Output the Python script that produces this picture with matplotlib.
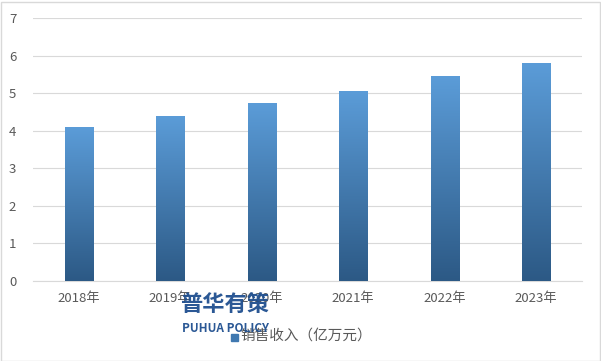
import matplotlib.pyplot as plt
import numpy as np
from matplotlib.colors import LinearSegmentedColormap

plt.rcParams['font.family'] = ['Noto Sans CJK SC', 'DejaVu Sans']

years = ['2018年', '2019年', '2020年', '2021年', '2022年', '2023年']
sales = [4.08, 4.37, 4.72, 5.04, 5.44, 5.78]
yticks = [0, 1, 2, 3, 4, 5, 6, 7]

fig = plt.figure(figsize=(6.01, 3.61), dpi=100)
ax = fig.add_axes([33/601, 1-281/361, 549/601, 263/361])

cmap = LinearSegmentedColormap.from_list('g', ['#2c5985', '#5b9cd8'])
grad = np.linspace(0, 1, 256).reshape(-1, 1)
w = 0.31
x = np.arange(len(years))
for xi, v in zip(x, sales):
    ax.imshow(grad, extent=[xi - w/2, xi + w/2, 0, v], origin='lower',
              aspect='auto', cmap=cmap, zorder=3)

ax.set_xlim(-0.5, len(years) - 0.5)
ax.set_ylim(0, 7)
ax.set_yticks(yticks)
ax.set_xticks(x)
ax.set_xticklabels(years)
ax.grid(axis='y', color='#d9d9d9', linewidth=0.8, zorder=0)
for s in ['top', 'right', 'left']:
    ax.spines[s].set_visible(False)
ax.spines['bottom'].set_color('#d9d9d9')
ax.tick_params(length=0, colors='#595959', labelsize=9.5)
ax.tick_params(axis='x', pad=8)
ax.tick_params(axis='y', pad=12)

# legend
fig.patches.append(plt.Rectangle((231/601, 1-341/361), 7/601, 7/361,
                                 transform=fig.transFigure, color='#3f78b0'))
fig.text(240/601, 1-336/361, '销售收入（亿万元）', fontsize=10.5, color='#595959',
         va='center', ha='left')

# watermark
fig.text(225/601, 1-304/361, '普华有策', fontsize=16, fontweight='bold',
         color='#1f4f8f', ha='center', va='center', alpha=0.95)
fig.text(225/601, 1-329/361, 'PUHUA POLICY', fontsize=8.5, fontweight='bold',
         color='#1f4f8f', ha='center', va='center', alpha=0.95)

fig.patches.append(plt.Rectangle((0.5/601, 0.5/361), 599/601, 359/361,
                                 transform=fig.transFigure, fill=False,
                                 edgecolor='#d9d9d9', linewidth=1))

fig.savefig('out.png', dpi=100)
